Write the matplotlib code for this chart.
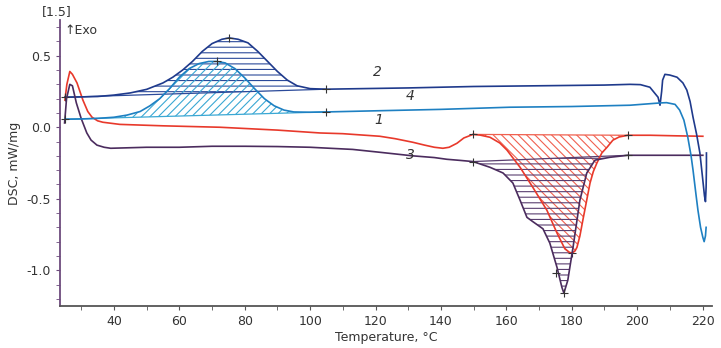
import matplotlib
matplotlib.use("Agg")
import matplotlib.pyplot as plt

# %% data
# curve 1 (red)
t1 = [25.0, 25.6, 26.5, 27.3, 28.7, 30.5, 32.0, 33.3, 35.0, 36.6, 41.8, 55, 72.4, 90, 103, 110,
      121.3, 126, 131.4, 135, 138, 140.6, 142.5, 144.9, 147, 149.8, 152, 155, 158, 160.2, 164.2,
      168.1, 172.4, 175.5, 177.9, 179.3, 180.1, 181, 181.6, 182.5, 183.4, 184.5, 185.6, 186.6,
      187.7, 189.2, 190.8, 192.6, 194.5, 197.2, 204, 212, 220.1]
dsc1 = [0.19, 0.30, 0.39, 0.37, 0.31, 0.19, 0.11, 0.07, 0.045, 0.035, 0.02, 0.01, 0.0, -0.02, -0.04, -0.045,
        -0.063, -0.08, -0.105, -0.125, -0.14, -0.147, -0.14, -0.112, -0.075, -0.05, -0.055, -0.07, -0.11, -0.16, -0.28,
        -0.42, -0.58, -0.74, -0.85, -0.875, -0.88, -0.865, -0.84, -0.76, -0.65, -0.52, -0.39, -0.31,
        -0.25, -0.18, -0.14, -0.09, -0.068, -0.056, -0.056, -0.06, -0.063]

# curve 2 (navy)
t2 = [25.0, 30, 35, 40, 45, 50, 55, 58, 61, 64, 67, 70, 73, 75.2, 78, 81, 84, 87, 90, 93, 96, 100, 104.8,
      110, 130, 150, 170, 190, 197.8, 201, 203.9, 205.5, 206.4, 207.0, 207.5, 207.8, 208.5, 210, 212.2,
      214, 215.2, 216.2, 217.1, 218.2, 219.2, 220, 220.6, 220.9, 221.1, 221.2, 221.2]
dsc2 = [0.21, 0.212, 0.215, 0.225, 0.24, 0.265, 0.31, 0.35, 0.40, 0.46, 0.53, 0.585, 0.615, 0.625, 0.615, 0.59,
        0.53, 0.46, 0.39, 0.33, 0.29, 0.27, 0.266,
        0.268, 0.275, 0.285, 0.29, 0.295, 0.30, 0.298, 0.28, 0.235, 0.21, 0.154, 0.25, 0.33, 0.37, 0.365, 0.35,
        0.31, 0.26, 0.18, 0.07, -0.05, -0.18, -0.35, -0.48, -0.52, -0.42, -0.28, -0.18]

# curve 3 (purple)
t3 = [24.9, 25.5, 26.5, 27.3, 28.5, 30, 31.7, 33, 34.8, 37, 39, 50, 60, 70, 80, 90, 100, 106, 113,
      121.3, 131.4, 138, 141.8, 146, 149.8, 155, 159, 162, 164.2, 166.3, 168.1, 171.2, 173.3, 175.5,
      177, 177.6, 178.8, 180.4, 182.5, 184.6, 187.1, 191.7, 197.2, 204, 212, 220.1]
dsc3 = [0.03, 0.2, 0.30, 0.29, 0.17, 0.06, -0.04, -0.09, -0.125, -0.14, -0.147, -0.14, -0.14, -0.133,
        -0.133, -0.135, -0.14, -0.147, -0.155,
        -0.175, -0.20, -0.212, -0.224, -0.232, -0.24, -0.28, -0.32, -0.39, -0.51, -0.63, -0.66, -0.71, -0.81,
        -0.98, -1.12, -1.16, -1.07, -0.84, -0.51, -0.32, -0.23, -0.21, -0.196, -0.196, -0.196, -0.196]

# curve 4 (light blue)
t4 = [25.0, 30, 35, 40, 44, 48, 51, 54, 57, 60, 63, 66, 69, 71.5, 74, 77, 80, 83, 86, 89, 92, 95, 100,
      104.8, 120, 140, 161, 180, 197.8, 207, 209, 211.6, 213, 214.3, 215.5, 216.5, 217.1, 218, 218.6,
      219.4, 220.1, 220.5, 220.9, 221.1]
dsc4 = [0.056, 0.058, 0.062, 0.07, 0.085, 0.11, 0.15, 0.2, 0.27, 0.35, 0.41, 0.445, 0.46, 0.46, 0.45, 0.41,
        0.345, 0.27, 0.2, 0.15, 0.12, 0.107, 0.105,
        0.107, 0.115, 0.125, 0.14, 0.145, 0.154, 0.17, 0.172, 0.16, 0.12, 0.05, -0.07, -0.2, -0.30, -0.47,
        -0.58, -0.7, -0.77, -0.80, -0.76, -0.70]

# integration limits (baseline end points) for each hatched peak
lim1 = (149.8, 197.2)
lim2 = (25.0, 104.8)
lim3 = (149.8, 197.2)
lim4 = (25.0, 104.8)

# extra '+' markers
mark1 = ([149.8, 180.1, 197.2], [-0.05, -0.88, -0.056])
mark2 = ([25.0, 75.2, 104.8], [0.21, 0.625, 0.266])
mark3 = ([149.8, 175.3, 177.6, 197.2], [-0.24, -1.02, -1.16, -0.196])
mark4 = ([25.0, 71.5, 104.8], [0.056, 0.46, 0.107])

labels = ['1', '2', '3', '4']
label_pos = [(121, 0.0), (120.7, 0.34), (130.8, -0.24), (130.5, 0.17)]

x_ticks = [40, 60, 80, 100, 120, 140, 160, 180, 200, 220]
y_ticks = [-1.0, -0.5, 0.0, 0.5]

c_red = '#e8392b'
c_navy = '#1f3a8c'
c_purple = '#4b2c5e'
c_blue = '#1e80c2'
hatch_cols = ['#f0604f', '#2b4a9a', '#5a3f70', '#3aa8d4']

# %% plot
plt.rcParams['hatch.linewidth'] = 0.8
fig = plt.figure(figsize=(7.21, 3.48), dpi=100)
ax = fig.add_axes([60 / 721, 1 - 306 / 348, 652 / 721, 286 / 348])


def segment(t, d, lim):
    st = [x for x in t if lim[0] - 1e-6 <= x <= lim[1] + 1e-6]
    sd = [d[i] for i, x in enumerate(t) if lim[0] - 1e-6 <= x <= lim[1] + 1e-6]
    return st, sd


curves = [(t1, dsc1, lim1, c_red, '\\\\\\\\', mark1),
          (t2, dsc2, lim2, c_navy, '---', mark2),
          (t3, dsc3, lim3, c_purple, '---', mark3),
          (t4, dsc4, lim4, c_blue, '////', mark4)]

for i, (t, d, lim, col, hatch, mk) in enumerate(curves):
    st, sd = segment(t, d, lim)
    # polygon closes along the straight baseline between the two limits
    ax.fill(st, sd, facecolor='none', edgecolor=hatch_cols[i], hatch=hatch, linewidth=0)
    ax.plot([st[0], st[-1]], [sd[0], sd[-1]], color=hatch_cols[i], lw=0.9)

for i, (t, d, lim, col, hatch, mk) in enumerate(curves):
    ax.plot(t, d, color=col, lw=1.2, solid_joinstyle='round')
    ax.plot(mk[0], mk[1], '+', color='#333333', ms=5.5, mew=0.8)

for lab, (x, y) in zip(labels, label_pos):
    ax.text(x, y, lab, fontsize=10, style='italic', color='#333333', ha='center', va='bottom')

ax.set_xlim(23.5, 222.9)
ax.set_ylim(-1.25, 0.75)
ax.set_xticks(x_ticks)
ax.set_xticks(range(30, 221, 10), minor=True)
ax.set_yticks(y_ticks)
ax.set_yticks([v / 10 for v in range(-12, 8)], minor=True)
ax.set_yticklabels([f'{v:.1f}' for v in y_ticks])

for s in ['top', 'right']:
    ax.spines[s].set_visible(False)
ax.spines['left'].set_color('#6d4b7d')
ax.spines['left'].set_linewidth(1.3)
ax.spines['bottom'].set_color('#555555')
ax.spines['bottom'].set_linewidth(1.3)
ax.tick_params(axis='y', which='both', direction='out', length=3, color='#6d4b7d', labelsize=9, labelcolor='#333333')
ax.tick_params(axis='x', which='both', direction='out', length=3, color='#555555', labelsize=9, labelcolor='#333333')

ax.set_xlabel('Temperature, °C', fontsize=9, color='#333333', labelpad=2)
ax.set_ylabel('DSC, mW/mg', fontsize=9, color='#333333', labelpad=4)

fig.text(57 / 721, 1 - 12 / 348, '[1.5]', fontsize=9, color='#333333', ha='center', va='center')
fig.text(64 / 721, 1 - 31 / 348, '↑Exo', fontsize=9, color='#333333', ha='left', va='center')

fig.savefig('out.png', dpi=100)
